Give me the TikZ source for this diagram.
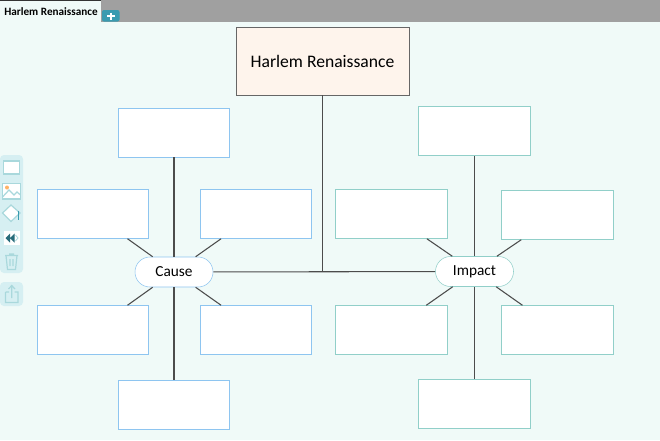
\documentclass[tikz,border=0pt]{standalone}
\usepackage{fontspec}
\setmainfont{Carlito}
\usetikzlibrary{positioning,calc}
\definecolor{paper}{HTML}{F0FAF8}
\definecolor{topbar}{HTML}{A0A0A0}
\definecolor{causeline}{HTML}{8EC5F0}
\definecolor{impactline}{HTML}{91CFC9}
\definecolor{titlefill}{HTML}{FEF4EC}
\definecolor{panel}{HTML}{D6EFF2}
\definecolor{tool}{HTML}{A9D8DC}
\definecolor{teal}{HTML}{3A9BB0}
\begin{document}
\begin{tikzpicture}[x=0.75pt,y=-0.75pt,node distance=13.5pt and 15mm,
cbox/.style={draw=causeline,fill=white,minimum width=83.6pt,minimum height=36.6pt,inner sep=0pt},
ibox/.style={draw=impactline,fill=white,minimum width=84pt,minimum height=36.6pt,inner sep=0pt},
hub/.style={fill=white,rounded corners=11.2pt,minimum width=58.5pt,minimum height=22.5pt,inner sep=0pt,font=\fontsize{11.5}{13}\selectfont},
link/.style={draw=black!70,line width=0.8pt},
icon/.style={draw=tool,line width=0.9pt}]
\useasboundingbox (0,0) rectangle (660,440);
\fill[paper] (0,0) rectangle (660,440);
\fill[topbar] (0,0) rectangle (660,22);
\fill[paper] (0,1) rectangle (101,23);
\draw[black!80,line width=0.5pt] (0,0.5) -- (101,0.5);
\node[font=\fontsize{8.4}{10}\selectfont\bfseries,anchor=west,inner sep=0pt] (tab) at (4,11.5) {Harlem Renaissance};
\fill[teal,rounded corners=1.5pt] (102,10) rectangle (119.5,21.5);
\draw[white,line width=1.2pt] (107,15.8) -- (114.5,15.8) (110.75,12.5) -- (110.75,19.5);
\fill[panel,rounded corners=3pt] (0,155) rectangle (23,273);
\fill[panel,rounded corners=3pt] (0,282) rectangle (23,306);
\draw[icon,fill=white] (3.5,161) rectangle (19.5,174);
\draw[icon,fill=white] (2.5,183.5) rectangle (20.5,199);
\draw[icon] (2.5,197) -- (9,190) -- (14,195) -- (17,192) -- (20.5,195);
\fill[orange!60] (7,187.5) circle (2);
\draw[icon,fill=white] (11,205) -- (20,213) -- (11,221.5) -- (2.5,213) -- cycle;
\draw[teal,line width=1.4pt] (18.5,211) -- (18.5,220);
\fill[white] (4,231) rectangle (19.5,245);
\fill[teal!70!black] (5.5,238) -- (10,233.5) -- (10,242.5) -- cycle (10,238) -- (14.5,233.5) -- (14.5,242.5) -- cycle;
\draw[tool,line width=0.6pt] (15.5,235) -- (18,238) -- (15.5,241);
\draw[icon] (5,255.5) -- (18,255.5) (6,255.5) -- (7.5,269.5) -- (15.5,269.5) -- (17,255.5) (9,254) -- (14,254)
  (10,259) -- (10,266) (13,259) -- (13,266);
\draw[icon] (5.5,292) -- (5.5,302.5) -- (18,302.5) -- (18,292) -- (14.5,292) (9,292) -- (5.5,292) (11.75,298) -- (11.75,286) (8.5,289) -- (11.75,285.5) -- (15,289);
\node[draw=black!60,fill=titlefill,minimum width=129.5pt,minimum height=51pt,font=\fontsize{13.2}{15}\selectfont] (title) at (322.5,61) {Harlem Renaissance};
\node[hub,draw=causeline] (cause) at (174,272) {Cause};
\node[hub,draw=impactline] (impact) at (474.5,271.5) {Impact};
\coordinate (junction) at (title |- cause);
\node[cbox,above=74.6pt of cause] (ctop) {};
\node[cbox,above=of cause,xshift=-60.75pt] (cul) {};
\node[cbox,above=of cause,xshift=61.5pt] (cur) {};
\node[cbox,below=of cause,xshift=-60.75pt] (cll) {};
\node[cbox,below=of cause,xshift=61.5pt] (clr) {};
\node[cbox,below=69.75pt of cause] (cbot) {};
\node[ibox,above=75.4pt of impact] (itop) {};
\node[ibox,above=13.1pt of impact,xshift=-62.6pt] (iul) {};
\node[ibox,above=12.4pt of impact,xshift=62.25pt] (iur) {};
\node[ibox,below=13.9pt of impact,xshift=-62.6pt] (ill) {};
\node[ibox,below=13.9pt of impact,xshift=62.25pt] (ilr) {};
\node[ibox,below=69.4pt of impact] (ibot) {};
\draw[link] (title) -- (junction);
\draw[link] (cause) -- (impact);
\foreach \leaf in {ctop,cul,cur,cll,clr,cbot} \draw[link] (cause) -- (\leaf);
\foreach \leaf in {itop,iul,iur,ill,ilr,ibot} \draw[link] (impact) -- (\leaf);
\end{tikzpicture}
\end{document}
